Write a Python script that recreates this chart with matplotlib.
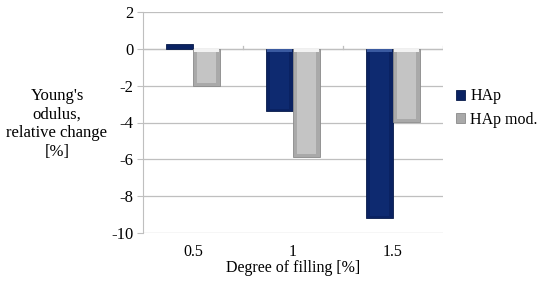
import matplotlib.pyplot as plt
import numpy as np

# data
categories = ["0.5", "1", "1.5"]
hap = [0.25, -3.4, -9.2]
hap_mod = [-2.0, -5.85, -3.95]
series_names = ["HAp", "HAp mod."]

plt.rcParams['font.family'] = ['Liberation Serif', 'DejaVu Serif']
plt.rcParams['axes.unicode_minus'] = False

fig = plt.figure(figsize=(5.5, 2.85), dpi=100)
ax = fig.add_axes([143/550, 1-233/285, 300/550, 221/285])

x = np.arange(len(categories))
w = 0.27
navy = '#0a2262'
grey = '#a9a9a9'

b1 = ax.bar(x - w/2, hap, w, color=navy, edgecolor='#071a4a', linewidth=0.6, label=series_names[0], zorder=3)
b2 = ax.bar(x + w/2, hap_mod, w, color=grey, edgecolor='#8a8a8a', linewidth=0.6, label=series_names[1], zorder=3)

# soft bevel: slightly lighter inner face on each bar
for bars, inner, top in ((b1, '#0e2a70', '#3a5aa0'), (b2, '#c4c4c4', '#f2f2f2')):
    for r in bars:
        h = r.get_height()
        if abs(h) < 0.5:
            continue
        s = np.sign(h)
        ax.bar(r.get_x() + r.get_width()/2, h - s*0.3, r.get_width()*0.72,
               bottom=s*0.15, color=inner, linewidth=0, zorder=4)
        ax.bar(r.get_x() + r.get_width()/2, s*0.15, r.get_width()*0.9,
               bottom=0, color=top, linewidth=0, zorder=5)

ax.set_xlim(-0.5, 2.5)
ax.set_ylim(-10, 2)
ax.set_yticks(range(-10, 3, 2))
ax.grid(axis='y', color='#bfbfbf', linewidth=0.9, zorder=0)
ax.set_xticks(x)
ax.set_xticklabels(categories)
for s in ('top', 'right', 'bottom'):
    ax.spines[s].set_visible(False)
ax.spines['left'].set_color('#bfbfbf')
ax.axhline(0, color='#bfbfbf', linewidth=0.9, zorder=2)
for xb in (0.5, 1.5, 2.5):
    ax.plot([xb, xb], [0, 0.18], color='#bfbfbf', linewidth=0.9, zorder=2)
ax.tick_params(axis='y', length=4, color='#bfbfbf', labelsize=12, pad=3)
ax.tick_params(axis='x', length=0, labelsize=11.5, pad=8)

ax.set_xlabel("Degree of filling [%]", fontsize=11.5, labelpad=0)
fig.text(57/550, 1-124/285, "Young's\nodulus,\nrelative change\n[%]", ha='center', va='center',
         fontsize=12, linespacing=1.2)

fig.legend(handles=[b1, b2], labels=series_names, loc='center left', bbox_to_anchor=(456/550, 1-108/285),
           frameon=False, fontsize=11.5, handlelength=0.55, handleheight=0.55, handletextpad=0.35,
           labelspacing=0.45, borderpad=0, borderaxespad=0)

fig.savefig("out.png", dpi=100)
